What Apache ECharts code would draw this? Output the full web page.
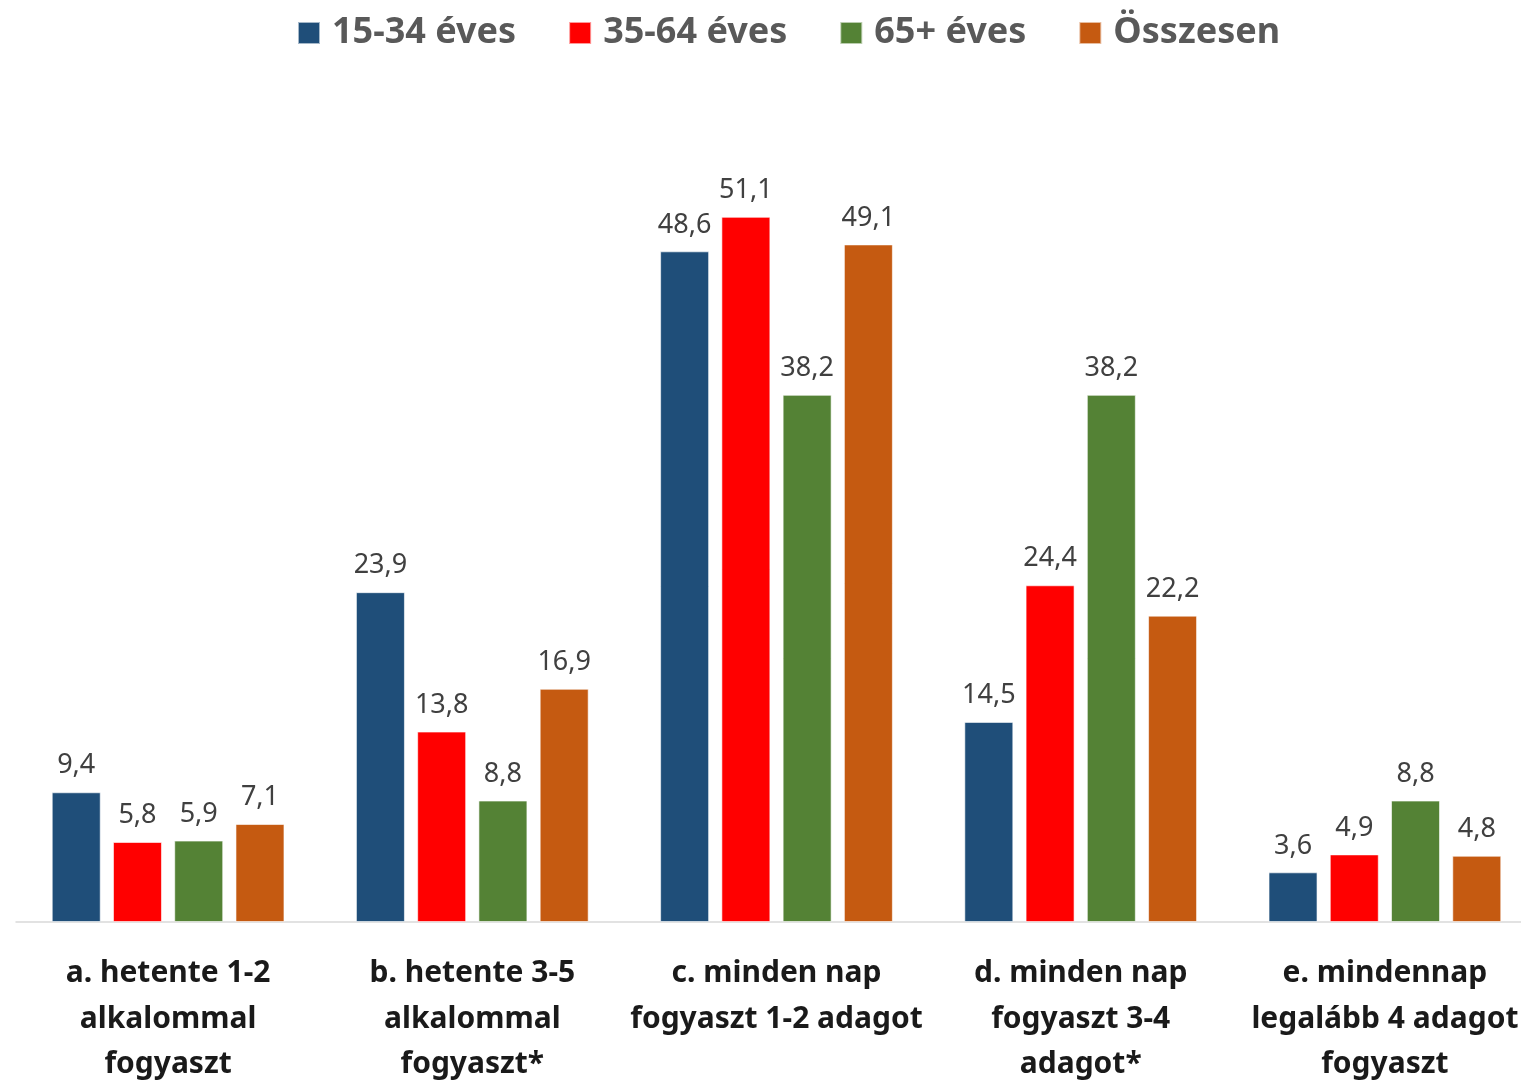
<!DOCTYPE html>
<html>
<head>
<meta charset="utf-8">
<script src="https://cdn.jsdelivr.net/npm/echarts@6/dist/echarts.min.js"></script>
<style>
  html, body { margin: 0; padding: 0; background: #fff; }
  #chart { width: 1521px; height: 1081px; }
</style>
</head>
<body>
<div id="chart"></div>
<script>
const categories = [
  'a. hetente 1-2\nalkalommal\nfogyaszt',
  'b. hetente 3-5\nalkalommal\nfogyaszt*',
  'c. minden nap\nfogyaszt 1-2 adagot',
  'd. minden nap\nfogyaszt 3-4\nadagot*',
  'e. mindennap\nlegalább 4 adagot\nfogyaszt'
]
const seriesNames = ['15-34 éves', '35-64 éves', '65+ éves', 'Összesen']
const age15_34 = [9.4, 23.9, 48.6, 14.5, 3.6]
const age35_64 = [5.8, 13.8, 51.1, 24.4, 4.9]
const age65plus = [5.9, 8.8, 38.2, 38.2, 8.8]
const total = [7.1, 16.9, 49.1, 22.2, 4.8]
const colors = ['#1F4E79', '#FF0000', '#548235', '#C55A11']

const chart = echarts.init(document.getElementById('chart'))
const font = '"Noto Sans", "DejaVu Sans", sans-serif'

function makeSeries(name, data, color) {
  return {
    name,
    type: 'bar',
    data,
    barWidth: 49,
    barGap: '25%',
    itemStyle: { color, borderColor: 'rgba(255,255,255,0.6)', borderWidth: 1 },
    label: {
      show: true,
      position: 'top',
      distance: 13,
      color: '#404040',
      fontFamily: font,
      fontSize: 27,
      formatter: p => String(p.value).replace('.', ',')
    }
  }
}

chart.setOption({
  animation: false,
  legend: {
    top: 15,
    left: 297,
    padding: 0,
    itemWidth: 22,
    itemHeight: 22,
    itemGap: 52,
    icon: 'rect',
    textStyle: { color: '#595959', fontFamily: font, fontSize: 36, fontWeight: 'bold', padding: [0, 0, 0, 7] },
    data: seriesNames
  },
  grid: { top: 94, bottom: 159, left: 16, right: -16, outerBoundsMode: 'none' },
  xAxis: {
    type: 'category',
    data: categories,
    axisLine: { lineStyle: { color: '#D9D9D9', width: 1.5 } },
    axisTick: { show: false },
    axisLabel: {
      color: '#1a1a1a',
      fontFamily: font,
      fontSize: 30,
      fontWeight: 'bold',
      lineHeight: 45.5,
      margin: 29,
      interval: 0
    }
  },
  yAxis: {
    type: 'value',
    min: 0,
    max: 60,
    show: false,
    splitLine: { show: false }
  },
  series: [
    makeSeries(seriesNames[0], age15_34, colors[0]),
    makeSeries(seriesNames[1], age35_64, colors[1]),
    makeSeries(seriesNames[2], age65plus, colors[2]),
    makeSeries(seriesNames[3], total, colors[3])
  ]
})
</script>
</body>
</html>
